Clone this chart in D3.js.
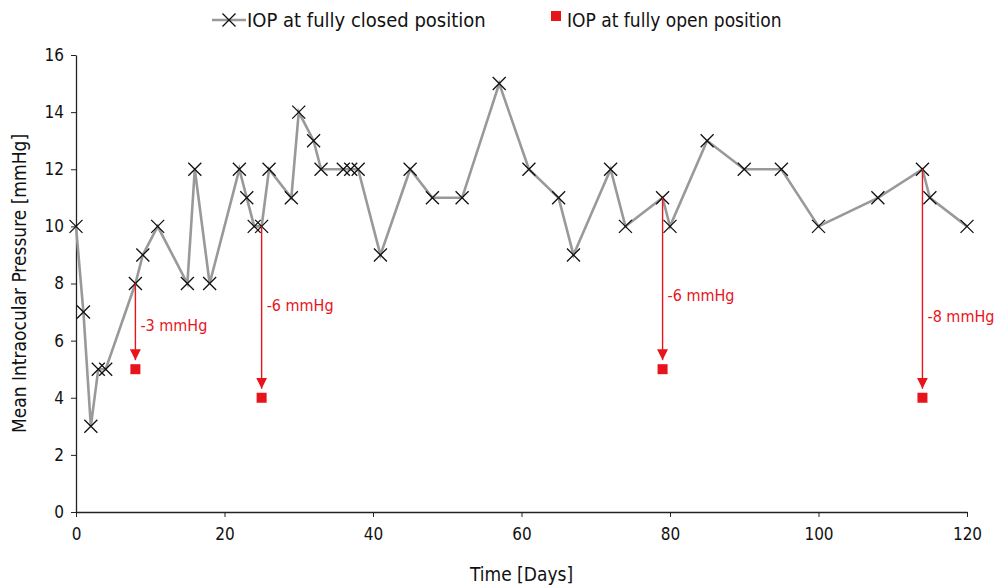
<!DOCTYPE html>
<html>
<head>
<meta charset="utf-8">
<script src="https://cdn.jsdelivr.net/npm/d3@7"></script>
<style>
  html, body { margin: 0; padding: 0; background: #fff; }
  svg text { font-family: "Liberation Sans Narrow", "DejaVu Sans Condensed", "Roboto", sans-serif; }
</style>
</head>
<body>
<svg id="chart" width="997" height="587"></svg>
<script>
// ---- data ----
const closedDays   = [0, 1, 2, 3, 4, 8, 9, 11, 15, 16, 18, 22, 23, 24, 25, 26, 29, 30, 32, 33, 36, 37, 38, 41, 45, 48, 52, 57, 61, 65, 67, 72, 74, 79, 80, 85, 90, 95, 100, 108, 114, 115, 120];
const closedValues = [10, 7, 3, 5, 5, 8, 9, 10, 8, 12, 8, 12, 11, 10, 10, 12, 11, 14, 13, 12, 12, 12, 12, 9, 12, 11, 11, 15, 12, 11, 9, 12, 10, 11, 10, 13, 12, 12, 10, 11, 12, 11, 10];
const openDays     = [8, 25, 79, 114];
const openValues   = [5, 4, 5, 4];
const dropFrom     = [8, 10, 11, 12];
const dropLabels   = ["-3 mmHg", "-6 mmHg", "-6 mmHg", "-8 mmHg"];
const dropLabelAt  = [6.55, 7.25, 7.6, 6.85];   // label anchor, in mmHg
const xTicks = [0, 20, 40, 60, 80, 100, 120];
const yTicks = [0, 2, 4, 6, 8, 10, 12, 14, 16];

const closedData = closedDays.map((d, i) => ({ x: d, y: closedValues[i] }));
const openData = openDays.map((d, i) => ({ x: d, y: openValues[i], from: dropFrom[i], label: dropLabels[i], at: dropLabelAt[i] }));

// ---- layout ----
const margin = { left: 76, right: 30, top: 55, bottom: 75 };
const W = 997, H = 587;
const svg = d3.select("#chart");
const x = d3.scaleLinear().domain([0, 120]).range([margin.left, W - margin.right]);
const y = d3.scaleLinear().domain([0, 16]).range([H - margin.bottom, margin.top]);

const red = "#e8141c";
const lineGray = "#999999";

svg.append("defs").append("marker")
  .attr("id", "arrow").attr("viewBox", "0 0 10 10")
  .attr("refX", 10).attr("refY", 5)
  .attr("markerWidth", 11).attr("markerHeight", 11)
  .attr("markerUnits", "userSpaceOnUse")
  .attr("orient", "auto")
  .append("path").attr("d", "M0,0 L10,5 L0,10 Z").attr("fill", red);

// axes
const xAxis = svg.append("g")
  .attr("transform", `translate(0,${y(0)})`)
  .call(d3.axisBottom(x).tickValues(xTicks).tickSize(5).tickPadding(11).tickSizeOuter(0));
const yAxis = svg.append("g")
  .attr("transform", `translate(${x(0)},0)`)
  .call(d3.axisLeft(y).tickValues(yTicks).tickSize(5).tickPadding(7).tickSizeOuter(0));
[xAxis, yAxis].forEach(g => {
  g.select(".domain").attr("stroke", "#222").attr("stroke-width", 1.3);
  g.selectAll(".tick line").attr("stroke", "#222").attr("stroke-width", 1);
  g.selectAll(".tick text").attr("fill", "#111").style("font-size", "17px");
});

// axis titles
svg.append("text")
  .attr("x", (x(0) + x(120)) / 2).attr("y", H - 6)
  .attr("text-anchor", "middle").attr("fill", "#111")
  .style("font-size", "19px").text("Time [Days]");
svg.append("text")
  .attr("transform", `translate(26,${(y(0) + y(16)) / 2}) rotate(-90)`)
  .attr("text-anchor", "middle").attr("fill", "#111")
  .style("font-size", "19px").text("Mean Intraocular Pressure [mmHg]");

// closed line
svg.append("path").datum(closedData)
  .attr("fill", "none").attr("stroke", lineGray).attr("stroke-width", 2.6)
  .attr("d", d3.line().x(d => x(d.x)).y(d => y(d.y)));

// X markers
const s = 6.5;
svg.append("g").selectAll("path").data(closedData).join("path")
  .attr("d", d => {
    const cx = x(d.x), cy = y(d.y);
    return `M${cx - s},${cy - s}L${cx + s},${cy + s}M${cx - s},${cy + s}L${cx + s},${cy - s}`;
  })
  .attr("stroke", "#111").attr("stroke-width", 1.3).attr("fill", "none");

// arrows
svg.append("g").selectAll("line").data(openData).join("line")
  .attr("x1", d => x(d.x)).attr("x2", d => x(d.x))
  .attr("y1", d => y(d.from)).attr("y2", d => y(d.y) - 9)
  .attr("stroke", red).attr("stroke-width", 1.4)
  .attr("marker-end", "url(#arrow)");

svg.append("g").selectAll("text").data(openData).join("text")
  .attr("x", d => x(d.x) + 5)
  .attr("y", d => y(d.at) + 6)
  .attr("fill", red).style("font-size", "16px")
  .text(d => d.label);

// open squares
svg.append("g").selectAll("rect").data(openData).join("rect")
  .attr("x", d => x(d.x) - 5).attr("y", d => y(d.y) - 5)
  .attr("width", 10).attr("height", 10).attr("fill", red);

// legend
const lg = svg.append("g");
lg.append("line").attr("x1", 212).attr("x2", 246).attr("y1", 20).attr("y2", 20)
  .attr("stroke", lineGray).attr("stroke-width", 2.6);
lg.append("path").attr("d", `M${229 - s},${20 - s}L${229 + s},${20 + s}M${229 - s},${20 + s}L${229 + s},${20 - s}`)
  .attr("stroke", "#111").attr("stroke-width", 1.3);
lg.append("text").attr("x", 247).attr("y", 27).attr("fill", "#111")
  .style("font-size", "20px").text("IOP at fully closed position");
lg.append("rect").attr("x", 551).attr("y", 11).attr("width", 10).attr("height", 10).attr("fill", red);
lg.append("text").attr("x", 567).attr("y", 27).attr("fill", "#111")
  .style("font-size", "19px").text("IOP at fully open position");
</script>
</body>
</html>
